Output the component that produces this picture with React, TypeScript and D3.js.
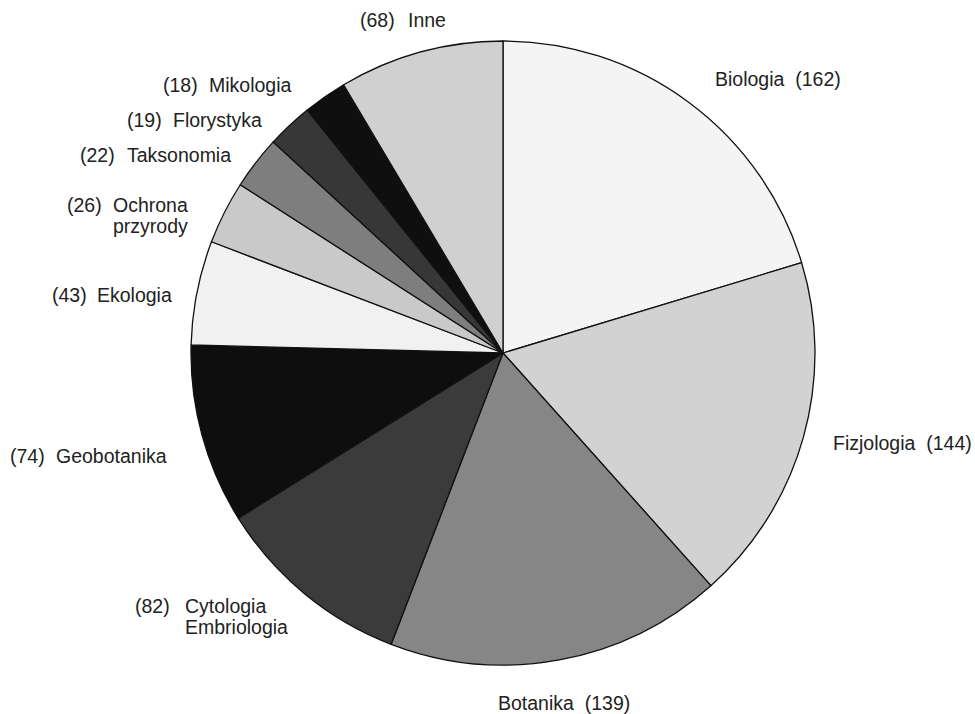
import React, { useMemo } from 'react';
import * as d3 from 'd3';

// slice order runs clockwise from 12 o'clock
const names = ['Biologia', 'Fizjologia', 'Botanika', 'Cytologia', 'Geobotanika', 'Ekologia', 'Ochrona', 'Taksonomia', 'Florystyka', 'Mikologia', 'Inne'];
const counts = [162, 144, 139, 82, 74, 43, 26, 22, 19, 18, 68];
const fills = ['#f4f4f4', '#d2d2d2', '#868686', '#3b3b3b', '#0e0e0e', '#f1f1f1', '#c9c9c9', '#7e7e7e', '#373737', '#0f0f0f', '#d0d0d0'];

// label text lines (the name part may wrap)
const labelLines = [
  ['Biologia'], ['Fizjologia'], ['Botanika'], ['Cytologia', 'Embriologia'], ['Geobotanika'],
  ['Ekologia'], ['Ochrona', 'przyrody'], ['Taksonomia'], ['Florystyka'], ['Mikologia'], ['Inne'],
];

// label layout: side 'L' = "(n)  name", 'R' = "name  (n)"; vx = value x, nx = name x, y = baseline
const labelLayout = [
  { side: 'R', nx: 715, y: 86 },
  { side: 'R', nx: 833, y: 450 },
  { side: 'R', nx: 498, y: 710 },
  { side: 'L', vx: 135, nx: 185, y: 613 },
  { side: 'L', vx: 10, nx: 56, y: 463 },
  { side: 'L', vx: 52, nx: 97, y: 302 },
  { side: 'L', vx: 67, nx: 113, y: 212 },
  { side: 'L', vx: 80, nx: 127, y: 162 },
  { side: 'L', vx: 127, nx: 173, y: 127 },
  { side: 'L', vx: 163, nx: 209, y: 92 },
  { side: 'L', vx: 360, nx: 408, y: 27 },
];

const W = 975;
const H = 714;
const cx = 503;
const cy = 353;
const R = 312;

export default function App() {
  const arcs = useMemo(() => {
    const pie = d3.pie<number>().sort(null).value(d => d);
    return pie(counts);
  }, []);
  const arc = d3.arc<d3.PieArcDatum<number>>().innerRadius(0).outerRadius(R);

  return (
    <svg width={W} height={H} style={{ position: 'absolute', left: 0, top: 0, background: '#fff' }}
      fontFamily="'Liberation Sans', Arial, sans-serif" fontSize={19.5} fill="#222">
      <g transform={`translate(${cx},${cy})`}>
        {arcs.map((a, i) => (
          <path key={names[i]} d={arc(a) || ''} fill={fills[i]} stroke="#111" strokeWidth={1.3} strokeLinejoin="round" />
        ))}
      </g>
      {labelLayout.map((l, i) => {
        const lines = labelLines[i];
        const val = `(${counts[i]})`;
        if (l.side === 'R') {
          return (
            <text key={names[i]} x={l.nx} y={l.y} style={{ whiteSpace: 'pre' }}>
              {`${lines[0]}  ${val}`}
            </text>
          );
        }
        return (
          <g key={names[i]}>
            <text x={l.vx} y={l.y}>{val}</text>
            {lines.map((s, k) => (
              <text key={s} x={l.nx} y={l.y + k * 21}>{s}</text>
            ))}
          </g>
        );
      })}
    </svg>
  );
}
